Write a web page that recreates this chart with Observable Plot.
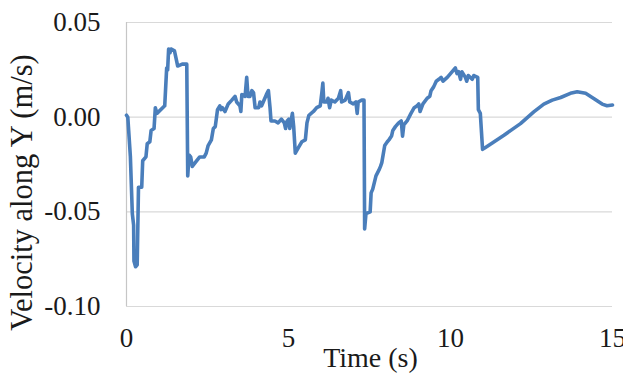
<!DOCTYPE html>
<html>
<head>
<meta charset="utf-8">
<script src="https://cdn.jsdelivr.net/npm/d3@7"></script>
<script src="https://cdn.jsdelivr.net/npm/@observablehq/plot@0.6"></script>
<style>
  html, body { margin: 0; padding: 0; background: #fff; }
  #chart svg { display: block; }
  #chart svg text { font-family: "Liberation Serif", "Times New Roman", serif !important; }
</style>
</head>
<body>
<div id="chart"></div>
<script>
const time = [0.00,0.04,0.12,0.18,0.22,0.23,0.28,0.33,0.37,0.47,0.50,0.60,0.64,0.72,0.76,0.85,0.89,0.94,1.18,1.24,1.27,1.30,1.34,1.38,1.48,1.53,1.58,1.72,1.86,1.89,1.93,1.98,2.03,2.12,2.26,2.40,2.46,2.52,2.62,2.68,2.74,2.81,2.88,2.92,2.96,3.04,3.14,3.25,3.35,3.40,3.50,3.53,3.56,3.66,3.71,3.75,3.81,3.87,3.92,3.97,4.08,4.12,4.17,4.32,4.38,4.43,4.46,4.58,4.68,4.78,4.87,4.91,4.96,5.01,5.04,5.12,5.16,5.21,5.31,5.41,5.52,5.57,5.63,5.77,5.87,5.98,6.03,6.06,6.09,6.18,6.22,6.27,6.32,6.43,6.54,6.61,6.64,6.75,6.85,6.89,7.00,7.08,7.12,7.15,7.26,7.33,7.35,7.39,7.52,7.55,7.60,7.70,7.79,7.84,7.88,7.97,8.05,8.10,8.18,8.22,8.30,8.40,8.48,8.52,8.56,8.66,8.78,8.88,8.97,9.02,9.06,9.15,9.28,9.36,9.40,9.48,9.56,9.64,9.71,9.77,9.90,10.00,10.15,10.20,10.25,10.31,10.35,10.46,10.50,10.55,10.67,10.72,10.84,10.86,10.92,10.99,11.08,11.65,12.16,12.57,12.88,13.14,13.40,13.70,13.91,14.17,14.42,14.68,14.83,15.00];
const velocity = [0.001,0.000,-0.021,-0.051,-0.057,-0.076,-0.079,-0.078,-0.037,-0.037,-0.023,-0.021,-0.014,-0.013,-0.007,-0.006,0.005,0.002,0.006,0.026,0.025,0.036,0.034,0.036,0.035,0.031,0.027,0.028,0.028,-0.031,-0.020,-0.021,-0.026,-0.024,-0.021,-0.021,-0.019,-0.015,-0.012,-0.006,-0.005,0.004,0.006,0.004,0.005,0.003,0.007,0.009,0.011,0.008,0.006,0.003,0.012,0.011,0.021,0.011,0.011,0.014,0.013,0.005,0.005,0.008,0.006,0.012,0.014,0.005,-0.002,-0.002,-0.003,-0.001,-0.003,-0.006,-0.002,-0.001,-0.006,0.002,-0.005,-0.019,-0.016,-0.013,-0.012,-0.003,0.001,0.003,0.005,0.006,0.013,0.018,0.008,0.008,0.010,0.005,0.009,0.008,0.010,0.014,0.008,0.009,0.013,0.008,0.007,0.008,0.002,0.008,0.009,0.009,-0.059,-0.051,-0.050,-0.040,-0.038,-0.031,-0.028,-0.026,-0.024,-0.015,-0.013,-0.012,-0.010,-0.007,-0.005,-0.003,-0.002,-0.010,-0.004,-0.002,0.002,0.005,0.006,0.007,0.003,0.007,0.010,0.011,0.014,0.016,0.019,0.020,0.021,0.019,0.021,0.023,0.026,0.023,0.024,0.020,0.024,0.021,0.019,0.022,0.020,0.022,0.021,0.004,0.002,-0.017,-0.016,-0.0095,-0.0034,0.0028,0.0069,0.0090,0.0104,0.0126,0.0134,0.0126,0.0099,0.0069,0.0060,0.0064];
const xTicks = [0, 5, 10, 15];
const yTicks = [-0.10, -0.05, 0.00, 0.05];
const xTitle = "Time (s)";
const yTitle = "Velocity along Y (m/s)";

const data = time.map((t, i) => ({t, v: velocity[i]}));
const font = "Liberation Serif, Times New Roman, serif";

const chart = Plot.plot({
  width: 623,
  height: 374,
  marginLeft: 126,
  marginRight: 11,
  marginTop: 22,
  marginBottom: 68,
  style: {fontFamily: font, fontSize: "27px", color: "#1a1a1a", background: "#fff"},
  x: {domain: [0, 15]},
  y: {domain: [-0.10, 0.05]},
  marks: [
    Plot.gridY(yTicks, {stroke: "#d9d9d9", strokeOpacity: 1, strokeWidth: 1.2}),
    Plot.ruleX([0], {stroke: "#c6c6c6", strokeWidth: 1.2}),
    Plot.axisY(yTicks, {tickSize: 0, tickPadding: 26, tickFormat: d => d.toFixed(2), label: null, fontSize: 27, fontFamily: font}),
    Plot.axisX(xTicks, {tickSize: 0, tickPadding: 21, tickFormat: d => String(d), label: null, fontSize: 27, fontFamily: font}),
    Plot.line(data, {x: "t", y: "v", stroke: "#4a7ebb", strokeWidth: 3.6, strokeLinejoin: "round", strokeLinecap: "round"}),
    Plot.text([yTitle], {text: d => d, frameAnchor: "left", textAnchor: "middle", lineAnchor: "middle", rotate: -90, dx: -104, dy: 28, fontSize: 30.5, fontFamily: font, fill: "#1a1a1a"}),
    Plot.text([xTitle], {text: d => d, frameAnchor: "bottom", textAnchor: "middle", lineAnchor: "middle", dx: 1, dy: 52, fontSize: 28, fontFamily: font, fill: "#1a1a1a"})
  ]
});
document.getElementById("chart").append(chart);
</script>
</body>
</html>
